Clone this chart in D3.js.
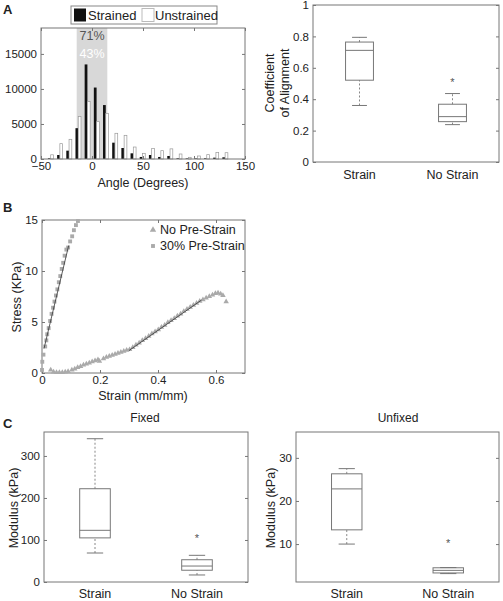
<!DOCTYPE html>
<html><head><meta charset="utf-8">
<script src="https://cdn.jsdelivr.net/npm/d3@7"></script>
<style>body{margin:0;background:#fff}svg{display:block}text{font-family:"Liberation Sans",Arial,sans-serif;fill:#222}</style>
</head><body>
<script>
// ---------- DATA ----------
// Panel A left: histogram of fibre angle (bin centres, degrees)
const binCenters = [-40.5,-31.5,-22.5,-13.5,-4.5,4.5,13.5,22.5,31.5,40.5,49.5,58.5,67.5,76.5,85.5,94.5,103.5,112.5,121.5,130.5];
const strainedCounts = [100,570,1190,4400,13500,10200,7700,2330,1570,810,290,570,290,430,100,80,80,100,190,240];
const unstrainedCounts = [600,2190,2810,6050,8200,5330,6520,3670,3380,1710,810,1520,1190,1450,715,240,430,620,950,900];
const histXTicks = [-50,0,50,100,150];
const histYTicks = [0,5000,10000,15000];
const shadedRange = [-15,15];
const pctLabels = ["71%","43%"];
const histLegend = ["Strained","Unstrained"];

// Panel A right: coefficient of alignment box plot [whiskerLow,q1,median,q3,whiskerHigh]
const groups = ["Strain","No Strain"];
const alignStats = [[0.36,0.521,0.711,0.764,0.794],[0.238,0.257,0.289,0.368,0.436]];
const alignOutliers = [[],[0.515]];
const alignTicks = [0,0.2,0.4,0.6,0.8,1];

// Panel B: stress-strain
const noPreStrain = [[0.030,0.30],[0.040,0.10],[0.050,0.05],[0.060,0.05],[0.070,0.05],[0.080,0.10],[0.090,0.15],
 [0.103,0.30],[0.113,0.40],[0.123,0.55],[0.133,0.65],[0.143,0.80],[0.153,0.90],[0.163,1.00],[0.173,1.10],[0.183,1.20],[0.193,1.30],[0.198,1.15],
 [0.212,1.40],[0.222,1.55],[0.232,1.65],[0.242,1.75],[0.252,1.85],[0.262,1.95],[0.272,2.05],[0.282,2.15],[0.292,2.25],
 [0.302,2.30],[0.313,2.50],[0.324,2.75],[0.335,2.95],[0.346,3.20],[0.357,3.40],[0.368,3.60],[0.379,3.85],[0.390,4.05],[0.401,4.25],[0.412,4.50],[0.423,4.70],[0.434,4.95],[0.445,5.15],[0.456,5.35],[0.467,5.60],[0.478,5.80],[0.489,6.05],[0.500,6.25],[0.511,6.45],[0.522,6.65],[0.533,6.85],[0.544,7.05],[0.555,7.20],[0.566,7.35],[0.577,7.50],[0.588,7.65],[0.598,7.80],[0.607,7.85],[0.616,7.75],[0.624,7.60],[0.635,7.00]];
const preStrain30 = [[0.000,0.3],[0.001,1.1],[0.005,1.8],[0.011,2.6],[0.015,3.2],[0.018,3.8],[0.023,4.4],[0.028,5.1],[0.033,5.8],[0.038,6.4],[0.043,7.0],[0.048,7.6],[0.053,8.2],[0.058,8.9],[0.063,9.5],[0.068,10.2],[0.073,10.8],[0.078,11.5],[0.084,12.1],[0.090,12.3],[0.097,12.9],[0.104,13.4],[0.110,14.0],[0.117,14.5],[0.124,14.9]];
const fitNoPre = [[0.30,2.2],[0.55,7.15]];
const fit30 = [[0.007,2.4],[0.092,12.5]];
const bXTicks = [0,0.2,0.4,0.6];
const bYTicks = [0,5,10,15];
const bLegend = ["No Pre-Strain","30% Pre-Strain"];

// Panel C: modulus box plots
const fixedStats = [[69,105,123,222,341],[16.7,28,38,53,63.5]];
const fixedOutliers = [[],[107]];
const fixedTicks = [0,100,200,300];
const unfixedStats = [[10,13.3,22.8,26.3,27.5],[3.15,3.3,3.9,4.5,4.55]];
const unfixedOutliers = [[],[10.5]];
const unfixedTicks = [10,20,30];

// ---------- DRAW ----------
const W=503,H=601;
const svg=d3.select("body").append("svg").attr("width",W).attr("height",H);
svg.append("rect").attr("width",W).attr("height",H).attr("fill","#fff");
const FRAME="#777", FS=11.5;

function axes(x,y,xt,yt,fmtX,fmtY){
  const [x0,x1]=x.range(), [y0,y1]=y.range();
  const g=svg.append("g");
  const ay=g.append("g").attr("transform",`translate(${x0},0)`).call(d3.axisLeft(y).tickValues(yt).tickSize(-3).tickPadding(4).tickFormat(fmtY||d3.format("~g")));
  const ay2=g.append("g").attr("transform",`translate(${x1},0)`).call(d3.axisRight(y).tickValues(yt).tickSize(-3).tickFormat(""));
  const list=[ay,ay2];
  if(xt){
    const ax=g.append("g").attr("transform",`translate(0,${y0})`).call(d3.axisBottom(x).tickValues(xt).tickSize(-3).tickPadding(3).tickFormat(fmtX||d3.format("~g")));
    const ax2=g.append("g").attr("transform",`translate(0,${y1})`).call(d3.axisTop(x).tickValues(xt).tickSize(-3).tickFormat(""));
    list.push(ax,ax2);
  }
  list.forEach(a=>{a.select(".domain").remove();a.selectAll("line").attr("stroke",FRAME);a.selectAll("text").attr("font-size",FS).attr("fill","#222").attr("font-family","Liberation Sans, Arial, sans-serif");});
  g.append("rect").attr("x",x0).attr("y",y1).attr("width",x1-x0).attr("height",y0-y1).attr("fill","none").attr("stroke",FRAME);
  return g;
}
function label(t,x,y,opt={}){
  const e=svg.append("text").attr("x",x).attr("y",y).text(t).attr("font-size",opt.fs||12).attr("text-anchor",opt.anchor||"middle");
  if(opt.rot) e.attr("transform",`rotate(-90,${x},${y})`);
  if(opt.bold) e.attr("font-weight","bold");
  if(opt.fill) e.style("fill",opt.fill);
  return e;
}

// Panel A left
{
  const x=d3.scaleLinear().domain([-50,150]).range([41,245]);
  const y=d3.scaleLinear().domain([0,18700]).range([159,28]);
  svg.append("rect").attr("x",x(shadedRange[0])).attr("y",y(18700)).attr("width",x(shadedRange[1])-x(shadedRange[0])).attr("height",y(0)-y(18700)).attr("fill","#d8d8d8");
  const bw=2.7;
  svg.append("g").selectAll("rect").data(binCenters).join("rect")
    .attr("x",(d)=>x(d-bw)).attr("width",x(bw)-x(0)).attr("y",(d,i)=>y(strainedCounts[i])).attr("height",(d,i)=>y(0)-y(strainedCounts[i]))
    .attr("fill","#111");
  svg.append("g").selectAll("rect").data(binCenters).join("rect")
    .attr("x",(d)=>x(d)).attr("width",x(bw)-x(0)).attr("y",(d,i)=>y(unstrainedCounts[i])).attr("height",(d,i)=>y(0)-y(unstrainedCounts[i]))
    .attr("fill","#fff").attr("stroke","#999").attr("stroke-width",0.7);
  axes(x,y,histXTicks,histYTicks);
  label(pctLabels[0],x(0),40,{fs:12.5,fill:"#555"});
  label(pctLabels[1],x(0),58,{fs:12.5,fill:"#fff"});
  label("Angle (Degrees)",143,187,{fs:12.5});
  // legend
  svg.append("rect").attr("x",71).attr("y",6).attr("width",146).attr("height",18).attr("fill","#fff").attr("stroke","#888");
  svg.append("rect").attr("x",74).attr("y",8.5).attr("width",12).attr("height",13).attr("fill","#111");
  label(histLegend[0],88,20,{fs:13,anchor:"start"});
  svg.append("rect").attr("x",142).attr("y",8.5).attr("width",12).attr("height",13).attr("fill","#fff").attr("stroke","#bbb");
  label(histLegend[1],155,20,{fs:13,anchor:"start"});
  label("A",3,14,{fs:13,bold:true,anchor:"start"});
}

function boxplot(xr,yDomain,yRange,ticks,stats,outs,yFmt){
  const x=d3.scaleLinear().domain([0.5,2.5]).range(xr);
  const y=d3.scaleLinear().domain(yDomain).range(yRange);
  axes(x,y,null,ticks,null,yFmt);
  const g=svg.append("g");
  const hw=0.15, cw=0.08;
  stats.forEach((s,i)=>{
    const c=i+1;
    g.append("line").attr("x1",x(c)).attr("x2",x(c)).attr("y1",y(s[0])).attr("y2",y(s[1])).attr("stroke","#888").attr("stroke-dasharray","2,2");
    g.append("line").attr("x1",x(c)).attr("x2",x(c)).attr("y1",y(s[3])).attr("y2",y(s[4])).attr("stroke","#888").attr("stroke-dasharray","2,2");
    [s[0],s[4]].forEach(v=>g.append("line").attr("x1",x(c-cw)).attr("x2",x(c+cw)).attr("y1",y(v)).attr("y2",y(v)).attr("stroke","#777"));
    g.append("rect").attr("x",x(c-hw)).attr("width",x(c+hw)-x(c-hw)).attr("y",y(s[3])).attr("height",y(s[1])-y(s[3])).attr("fill","none").attr("stroke","#777");
    g.append("line").attr("x1",x(c-hw)).attr("x2",x(c+hw)).attr("y1",y(s[2])).attr("y2",y(s[2])).attr("stroke","#777");
    outs[i].forEach(v=>g.append("text").attr("x",x(c)).attr("y",y(v)+5).attr("text-anchor","middle").attr("font-size",11).style("fill","#555").text("*"));
  });
  return x;
}

// Panel A right
{
  const x=boxplot([313,499],[0,1],[162,5],alignTicks,alignStats,alignOutliers);
  groups.forEach((g,i)=>label(g,x(i+1),179,{fs:12.5}));
  label("Coefficient",274,83,{fs:12.5,rot:true});
  label("of Alignment",289,83,{fs:12.5,rot:true});
}

// Panel B
{
  const x=d3.scaleLinear().domain([0,0.7]).range([42,245]);
  const y=d3.scaleLinear().domain([0,15]).range([373,220]);
  axes(x,y,bXTicks,bYTicks);
  const tri=d3.symbol().type(d3.symbolTriangle).size(13);
  const sq=d3.symbol().type(d3.symbolSquare).size(15);
  svg.append("g").selectAll("path").data(noPreStrain).join("path").attr("d",tri).attr("transform",d=>`translate(${x(d[0])},${y(d[1])})`).attr("fill","#aaa");
  svg.append("g").selectAll("path").data(preStrain30).join("path").attr("d",sq).attr("transform",d=>`translate(${x(d[0])},${y(d[1])})`).attr("fill","#aaa");
  const line=d3.line().x(d=>x(d[0])).y(d=>y(d[1]));
  svg.append("path").attr("d",line(fitNoPre)).attr("stroke","#333").attr("stroke-width",0.8).attr("fill","none");
  svg.append("path").attr("d",line(fit30)).attr("stroke","#333").attr("stroke-width",0.8).attr("fill","none");
  svg.append("path").attr("d",d3.symbol().type(d3.symbolTriangle).size(18)).attr("transform","translate(153,230)").attr("fill","#aaa");
  svg.append("path").attr("d",sq).attr("transform","translate(153,246)").attr("fill","#aaa");
  label(bLegend[0],160,234,{fs:12.5,anchor:"start"});
  label(bLegend[1],160,250,{fs:12.5,anchor:"start"});
  label("Stress (KPa)",21,297,{fs:12.5,rot:true});
  label("Strain (mm/mm)",143,400,{fs:12.5});
  label("B",3,212,{fs:13,bold:true,anchor:"start"});
}

// Panel C
{
  const x1=boxplot([44,248],[0,357],[582,432],fixedTicks,fixedStats,fixedOutliers);
  groups.forEach((g,i)=>label(g,x1(i+1),598,{fs:12.5}));
  label("Fixed",145,422,{fs:12});
  label("Modulus (kPa)",18,508,{fs:12.5,rot:true});
  const x2=boxplot([296,499],[1.2,36],[582,432],unfixedTicks,unfixedStats,unfixedOutliers);
  groups.forEach((g,i)=>label(g,x2(i+1),598,{fs:12.5}));
  label("Unfixed",398,422,{fs:12});
  label("Modulus (kPa)",275,508,{fs:12.5,rot:true});
  label("C",3,428,{fs:13,bold:true,anchor:"start"});
}
</script>
</body></html>
